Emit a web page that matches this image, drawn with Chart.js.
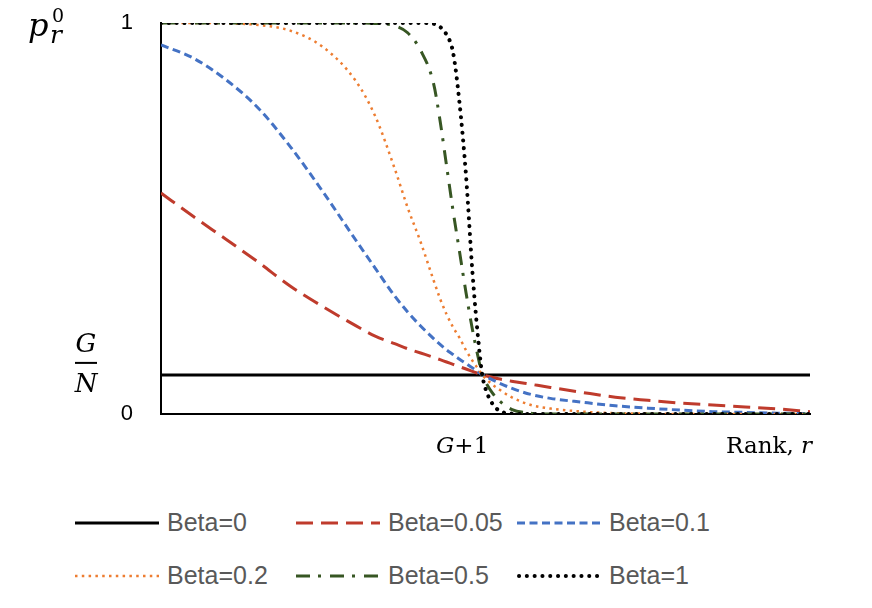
<!DOCTYPE html>
<html>
<head>
<meta charset="utf-8">
<title>p_r^0 by rank</title>
<script src="https://cdn.jsdelivr.net/npm/chart.js@4.4.0/dist/chart.umd.min.js"></script>
<style>
  html, body { margin: 0; padding: 0; background: #fff; }
  #wrap { position: relative; width: 872px; height: 608px; }
  #box { position: absolute; left: 0; top: 0; width: 872px; height: 470px; }
  #legend {
    position: absolute; left: 75px; top: 496px;
    display: grid; grid-template-columns: 221px 221px 221px; grid-auto-rows: 53px;
    align-items: center;
    font-family: "Liberation Sans", Arial, sans-serif; font-size: 25px; color: #595959;
  }
  .item { display: flex; align-items: center; white-space: nowrap; }
  .item svg { margin-right: 8px; }
</style>
</head>
<body>
<div id="wrap">
  <div id="box"><canvas id="chart"></canvas></div>
  <div id="legend"></div>
</div>
<script>
// ----- Data -----
const ranks   = [0, 5, 10, 15, 20, 25, 30, 33, 36, 38, 40, 42, 43, 44, 45, 46, 47, 48, 49, 49.5, 50, 51, 52, 54, 57, 60, 65, 70, 75, 80, 85, 90, 95, 100];
const beta0   = [0.1, 0.1, 0.1, 0.1, 0.1, 0.1, 0.1, 0.1, 0.1, 0.1, 0.1, 0.1, 0.1, 0.1, 0.1, 0.1, 0.1, 0.1, 0.1, 0.1, 0.1, 0.1, 0.1, 0.1, 0.1, 0.1, 0.1, 0.1, 0.1, 0.1, 0.1, 0.1, 0.1, 0.1];
const beta005 = [0.565, 0.505, 0.447, 0.388, 0.326, 0.274, 0.226, 0.199, 0.180, 0.167, 0.156, 0.145, 0.139, 0.133, 0.127, 0.121, 0.115, 0.109, 0.103, 0.100, 0.098, 0.094, 0.090, 0.084, 0.076, 0.068, 0.055, 0.043, 0.035, 0.028, 0.023, 0.018, 0.013, 0.006];
const beta01  = [0.944, 0.910, 0.855, 0.782, 0.682, 0.567, 0.445, 0.373, 0.302, 0.261, 0.225, 0.193, 0.178, 0.164, 0.152, 0.140, 0.129, 0.118, 0.106, 0.100, 0.096, 0.088, 0.080, 0.066, 0.050, 0.040, 0.030, 0.021, 0.015, 0.010, 0.006, 0.004, 0.002, 0.001];
const beta02  = [1, 1, 0.999, 0.995, 0.980, 0.938, 0.852, 0.762, 0.628, 0.528, 0.440, 0.342, 0.295, 0.255, 0.222, 0.195, 0.163, 0.136, 0.112, 0.100, 0.091, 0.076, 0.064, 0.043, 0.023, 0.014, 0.006, 0.002, 0.001, 0, 0, 0, 0, 0];
const beta05  = [1, 1, 1, 1, 1, 1, 1, 0.999, 0.993, 0.975, 0.930, 0.845, 0.750, 0.635, 0.520, 0.415, 0.310, 0.215, 0.135, 0.100, 0.082, 0.055, 0.036, 0.012, 0.002, 0, 0, 0, 0, 0, 0, 0, 0, 0];
const beta1   = [1, 1, 1, 1, 1, 1, 1, 1, 1, 1, 1, 0.998, 0.990, 0.970, 0.925, 0.795, 0.610, 0.360, 0.170, 0.100, 0.065, 0.028, 0.010, 0.001, 0, 0, 0, 0, 0, 0, 0, 0, 0, 0];

const seriesLabels = ["Beta=0", "Beta=0.05", "Beta=0.1", "Beta=0.2", "Beta=0.5", "Beta=1"];
const seriesValues = [beta0, beta005, beta01, beta02, beta05, beta1];

const yTickValues = [0, 1];
const gOverN = 0.1;      // level of the G/N label
const gPlusOne = 46.4;   // where the "G+1" label sits on the rank axis

// ----- Line styles -----
const styles = [
  { color: "#000000", width: 3,   dash: [],             cap: "butt" },
  { color: "#BF3B2C", width: 3,   dash: [17, 8],        cap: "butt" },
  { color: "#4472C4", width: 3,   dash: [8, 4.5],       cap: "butt" },
  { color: "#ED7D31", width: 2.5, dash: [2.5, 4.3],     cap: "butt" },
  { color: "#375623", width: 3,   dash: [14, 8, 3, 9],  cap: "butt" },
  { color: "#000000", width: 4,   dash: [0.1, 7.7],     cap: "round" },
];

const SERIF = '"DejaVu Serif", "Liberation Serif", serif';

// draw a row of text pieces with different fonts
function drawRuns(ctx, runs, x, baseline, align) {
  let total = 0;
  runs.forEach(r => { ctx.font = r.font; r.w = ctx.measureText(r.text).width; total += r.w; });
  let cx = align === "center" ? x - total / 2 : align === "right" ? x - total : x;
  ctx.textAlign = "left";
  runs.forEach(r => { ctx.font = r.font; ctx.fillText(r.text, cx, baseline); cx += r.w; });
}

// axis texts with math italics
const axisText = {
  id: "axisText",
  afterDraw(chart) {
    const { ctx, scales: { x, y } } = chart;
    ctx.save();
    ctx.fillStyle = "#000";
    ctx.textBaseline = "alphabetic";

    // p_r^0 at the top of the value axis
    const top = y.getPixelForValue(1);
    ctx.textAlign = "left";
    ctx.font = "italic 32px " + SERIF;
    ctx.fillText("p", 28, top + 13);
    ctx.font = "italic 25px " + SERIF;
    ctx.fillText("r", 50, top + 20);
    ctx.font = "19px " + SERIF;
    ctx.fillText("0", 52, top - 1);

    // G/N fraction
    const bar = y.getPixelForValue(gOverN) - 12;
    ctx.textAlign = "center";
    ctx.font = "italic 26px " + SERIF;
    ctx.fillText("G", 86, bar - 11);
    ctx.fillText("N", 86, bar + 29);
    ctx.fillRect(75, bar - 1, 22, 2);

    // rank axis labels
    const base = y.bottom + 39;
    drawRuns(ctx, [
      { text: "G", font: "italic 23px " + SERIF },
      { text: "+1", font: "23px " + SERIF },
    ], x.getPixelForValue(gPlusOne), base, "center");
    drawRuns(ctx, [
      { text: "Rank, ", font: "23px " + SERIF },
      { text: "r", font: "italic 23px " + SERIF },
    ], x.right + 2, base, "right");

    ctx.restore();
  }
};

const chart = new Chart(document.getElementById("chart"), {
  type: "line",
  data: {
    datasets: seriesValues.map((vals, i) => ({
      label: seriesLabels[i],
      data: ranks.map((r, j) => ({ x: r, y: vals[j] })),
      borderColor: styles[i].color,
      borderWidth: styles[i].width,
      borderDash: styles[i].dash,
      borderCapStyle: styles[i].cap,
      borderJoinStyle: "round",
      cubicInterpolationMode: "monotone",
      pointRadius: 0,
      fill: false,
      order: seriesLabels.length - i
    }))
  },
  options: {
    responsive: true,
    maintainAspectRatio: false,
    animation: false,
    layout: { padding: { left: 0, top: 23, right: 62, bottom: 0 } },
    plugins: { legend: { display: false }, tooltip: { enabled: false } },
    scales: {
      x: {
        type: "linear", min: 0, max: 100,
        grid: { display: false, drawTicks: false },
        border: { display: true, color: "#000", width: 2 },
        ticks: { display: false },
        afterFit: s => { s.height = 56; s.paddingLeft = s.paddingRight = 0; }
      },
      y: {
        min: 0, max: 1,
        grid: { display: false, drawTicks: false },
        border: { display: true, color: "#000", width: 2 },
        ticks: {
          padding: 28, color: "#000",
          font: { family: '"Liberation Sans", Arial, sans-serif', size: 22 },
          callback: v => String(v)
        },
        afterBuildTicks: s => { s.ticks = yTickValues.map(v => ({ value: v })); },
        afterFit: s => { s.width = 161; s.paddingTop = s.paddingBottom = 0; }
      }
    }
  },
  plugins: [axisText]
});

// ----- HTML legend in a 3 column grid -----
const legend = document.getElementById("legend");
chart.data.datasets.forEach((ds, i) => {
  const st = styles[i];
  const x1 = st.cap === "round" ? st.width / 2 : 0;
  const item = document.createElement("div");
  item.className = "item";
  item.innerHTML = `
    <svg width="84" height="10"><line x1="${x1}" y1="5" x2="84" y2="5"
      stroke="${st.color}" stroke-width="${st.width}" stroke-linecap="${st.cap}"
      stroke-dasharray="${st.dash.length ? st.dash.join(" ") : "none"}"/></svg>
    <span>${ds.label}</span>`;
  legend.appendChild(item);
});
</script>
</body>
</html>
